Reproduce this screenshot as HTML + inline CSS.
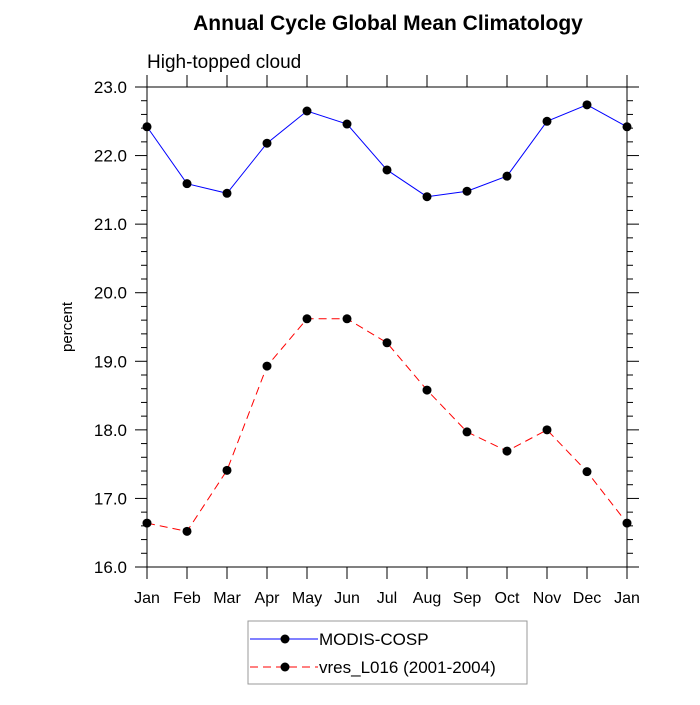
<!DOCTYPE html>
<html><head><meta charset="utf-8"><style>body{margin:0;background:#fff}svg{font-family:"Liberation Sans",sans-serif}</style></head>
<body>
<svg id="c" width="700" height="700" xmlns="http://www.w3.org/2000/svg">
<text x="388" y="30" font-size="21" font-weight="bold" text-anchor="middle">Annual Cycle Global Mean Climatology</text>
<text x="147" y="68" font-size="19">High-topped cloud</text>
<text transform="translate(72,327) rotate(-90)" font-size="15" text-anchor="middle">percent</text>
<g id="axes"></g>
<g id="series"></g>
<g>
<rect x="248" y="621" width="279" height="63" fill="#fff" stroke="#999" stroke-width="1"/>
<line x1="250" y1="639" x2="318" y2="639" stroke="#00f"/>
<circle cx="285" cy="639" r="4.5"/>
<text x="319" y="645" font-size="17">MODIS-COSP</text>
<line x1="250" y1="667" x2="318" y2="667" stroke="#f00" stroke-dasharray="8,5"/>
<circle cx="285" cy="667" r="4.5"/>
<text x="319" y="673" font-size="17">vres_L016 (2001-2004)</text>
</g>
</svg>
<script>
const months=["Jan","Feb","Mar","Apr","May","Jun","Jul","Aug","Sep","Oct","Nov","Dec","Jan"];
const modisValues=[22.42,21.59,21.45,22.18,22.65,22.46,21.79,21.40,21.48,21.70,22.50,22.74,22.42];
const modelValues=[16.64,16.52,17.41,18.93,19.62,19.62,19.27,18.58,17.97,17.69,18.00,17.39,16.64];
const yTicks=[16,17,18,19,20,21,22,23];
const yTickLabels=["16.0","17.0","18.0","19.0","20.0","21.0","22.0","23.0"];
const L=147,R=627,T=87,B=567,ymin=16,ymax=23;
const NS="http://www.w3.org/2000/svg";
const xs=i=>L+(R-L)*i/(months.length-1);
const ys=v=>B-(v-ymin)/(ymax-ymin)*(B-T);
function mk(p,t,a){const e=document.createElementNS(NS,t);for(const k in a)e.setAttribute(k,a[k]);p.appendChild(e);return e;}
const ax=document.getElementById('axes'),se=document.getElementById('series');
const frame=mk(ax,'rect',{x:L,y:T,width:R-L,height:B-T,fill:'none',stroke:'#000','stroke-width':1});


for(let v=ymin;v<=ymax+1e-9;v+=0.2){const maj=Math.abs(v-Math.round(v))<1e-6;const len=maj?12:6;
mk(ax,'line',{x1:L-len,x2:L,y1:ys(v),y2:ys(v),stroke:'#000'});mk(ax,'line',{x1:R,x2:R+len,y1:ys(v),y2:ys(v),stroke:'#000'});}
yTicks.forEach((v,i)=>{const t=mk(ax,'text',{x:L-20,y:ys(v)+6,'font-size':17,'text-anchor':'end'});t.textContent=yTickLabels[i];

});
months.forEach((m,i)=>{const x=xs(i);mk(ax,'line',{x1:x,x2:x,y1:B,y2:B+12,stroke:'#000'});mk(ax,'line',{x1:x,x2:x,y1:T-12,y2:T,stroke:'#000'});
const t=mk(ax,'text',{x:x,y:B+36,'font-size':16,'text-anchor':'middle'});t.textContent=m;

});
function series(vals,color,dash,name){const p=mk(se,'polyline',{points:vals.map((v,i)=>xs(i)+','+ys(v)).join(' '),fill:'none',stroke:color,'stroke-width':1});
if(dash)p.setAttribute('stroke-dasharray','8,5');


vals.forEach((v,i)=>{const c=mk(se,'circle',{cx:xs(i),cy:ys(v),r:4.5,fill:'#000'});

});}
series(modisValues,'#00f',false,'modis');
series(modelValues,'#f00',true,'model');
</script>
</body></html>
